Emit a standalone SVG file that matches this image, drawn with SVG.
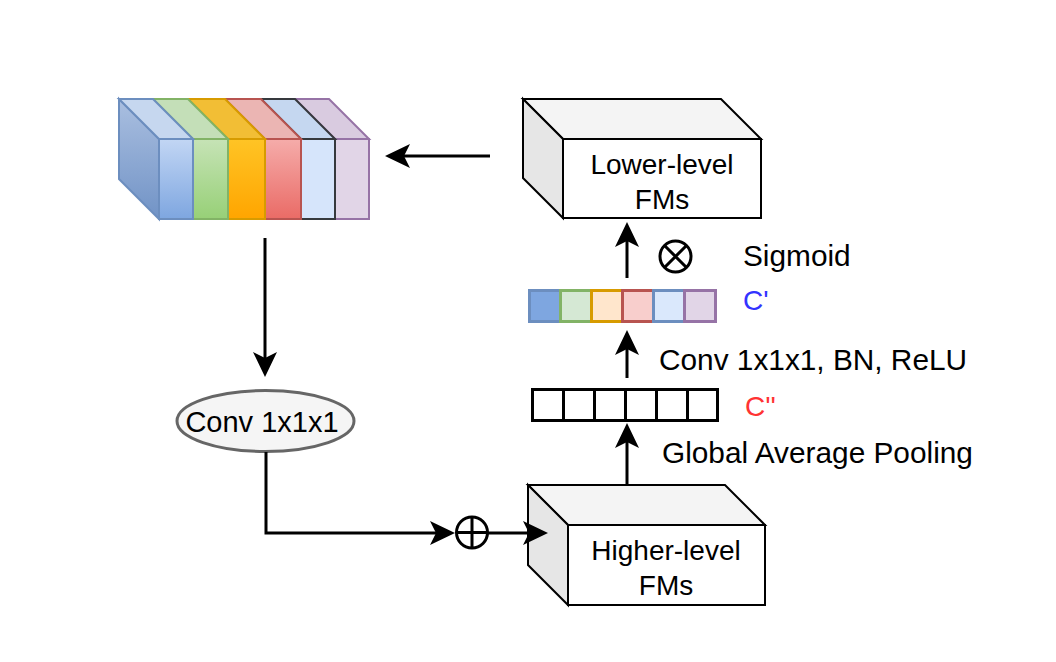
<svg xmlns="http://www.w3.org/2000/svg" width="1056" height="662" viewBox="0 0 1056 662">
<style>
text{font-family:"Liberation Sans",Arial,Helvetica,sans-serif;font-size:28px;fill:#000}
.lbl{font-size:29.8px}
.cube{stroke:#000;stroke-width:2;stroke-linejoin:miter}
.edge{fill:none;stroke:#000;stroke-width:3}
.sym{fill:#fff;stroke:#000;stroke-width:3}
.cell{stroke-width:3}
.blk{fill:#fff;stroke:#000;stroke-width:3}
</style>
<defs>
<marker id="ah" viewBox="0 0 25 24" markerWidth="25" markerHeight="24" markerUnits="userSpaceOnUse" refX="6" refY="12" orient="auto">
<path d="M0,0 L25,12 L0,24 L6,12 Z" fill="#000"/>
</marker>
<linearGradient id="gBlueF" x1="0" y1="0" x2="0" y2="1"><stop offset="0" stop-color="#c2d6f4"/><stop offset="1" stop-color="#7ea6e0"/></linearGradient>
<linearGradient id="gBlueL" x1="0" y1="0" x2="0" y2="1"><stop offset="0" stop-color="#aabfe0"/><stop offset="1" stop-color="#7193c6"/></linearGradient>
<linearGradient id="gGreenF" x1="0" y1="0" x2="0" y2="1"><stop offset="0" stop-color="#c6e3b6"/><stop offset="1" stop-color="#97d077"/></linearGradient>
<linearGradient id="gOrangeF" x1="0" y1="0" x2="0" y2="1"><stop offset="0" stop-color="#ffc425"/><stop offset="1" stop-color="#ffa500"/></linearGradient>
<linearGradient id="gRedF" x1="0" y1="0" x2="0" y2="1"><stop offset="0" stop-color="#f5acaa"/><stop offset="1" stop-color="#ea6b66"/></linearGradient>
</defs>

<g id="feature-stack">
  <g id="slab-purple" stroke="#9673a6" stroke-width="2">
    <polygon points="295,99 329,99 369,139 335,139" fill="#d9cbe0"/>
    <rect x="335" y="139" width="34" height="80" fill="#e1d5e7"/>
  </g>
  <g id="slab-lightblue" stroke="#36393d" stroke-width="2">
    <polygon points="261,99 295,99 335,139 301,139" fill="#c5d7f0"/>
    <rect x="301" y="139" width="34" height="80" fill="#d6e5fb"/>
  </g>
  <g id="slab-red" stroke="#b85450" stroke-width="2">
    <polygon points="225,99 261,99 301,139 265,139" fill="#ebb5b3"/>
    <rect x="265" y="139" width="36" height="80" fill="url(#gRedF)"/>
  </g>
  <g id="slab-orange" stroke="#d79b00" stroke-width="2">
    <polygon points="188,99 225,99 265,139 228,139" fill="#f2be35"/>
    <rect x="228" y="139" width="37" height="80" fill="url(#gOrangeF)"/>
  </g>
  <g id="slab-green" stroke="#82b366" stroke-width="2">
    <polygon points="153,99 188,99 228,139 193,139" fill="#c4dfb8"/>
    <rect x="193" y="139" width="35" height="80" fill="url(#gGreenF)"/>
  </g>
  <g id="slab-blue" stroke="#6c8ebf" stroke-width="2">
    <polygon points="119,99 159,139 159,219 119,179" fill="url(#gBlueL)"/>
    <polygon points="119,99 153,99 193,139 159,139" fill="#c6d7ef"/>
    <rect x="159" y="139" width="34" height="80" fill="url(#gBlueF)"/>
  </g>
</g>

<g id="lower-level-fms">
  <polygon class="cube" points="523,99 721,99 761,139 563,139" fill="#f4f4f4"/>
  <polygon class="cube" points="523,99 563,139 563,218 523,178" fill="#e6e6e6"/>
  <rect class="cube" x="563" y="139" width="198" height="79" fill="#fff"/>
  <text x="662" y="174" text-anchor="middle">Lower-level</text>
  <text x="662" y="209" text-anchor="middle">FMs</text>
</g>

<g id="higher-level-fms">
  <polygon class="cube" points="528,485 725,485 765,525 568,525" fill="#f4f4f4"/>
  <polygon class="cube" points="528,485 568,525 568,605 528,565" fill="#e6e6e6"/>
  <rect class="cube" x="568" y="525" width="197" height="80" fill="#fff"/>
  <text x="666" y="560" text-anchor="middle">Higher-level</text>
  <text x="666" y="595" text-anchor="middle">FMs</text>
</g>

<g id="conv-node">
  <ellipse cx="265.5" cy="421" rx="88.5" ry="30.5" fill="#f5f5f5" stroke="#666666" stroke-width="3"/>
  <text x="262" y="432" text-anchor="middle" style="font-size:29px">Conv 1x1x1</text>
</g>

<g id="c-prime">
  <rect class="cell" x="529.5" y="290.5" width="31" height="31" fill="#7ea6e0" stroke="#6c8ebf"/>
  <rect class="cell" x="560.5" y="290.5" width="31" height="31" fill="#d5e8d4" stroke="#82b366"/>
  <rect class="cell" x="591.5" y="290.5" width="31" height="31" fill="#ffe6cc" stroke="#d79b00"/>
  <rect class="cell" x="622.5" y="290.5" width="31" height="31" fill="#f8cecc" stroke="#b85450"/>
  <rect class="cell" x="653.5" y="290.5" width="31" height="31" fill="#dae8fc" stroke="#6c8ebf"/>
  <rect class="cell" x="684.5" y="290.5" width="31" height="31" fill="#e1d5e7" stroke="#9673a6"/>
  <text x="743" y="310" style="fill:#3333ff">C'</text>
</g>

<g id="c-double-prime">
  <rect class="blk" x="532.5" y="389.5" width="31" height="31"/>
  <rect class="blk" x="563.5" y="389.5" width="31" height="31"/>
  <rect class="blk" x="594.5" y="389.5" width="31" height="31"/>
  <rect class="blk" x="625.5" y="389.5" width="31" height="31"/>
  <rect class="blk" x="656.5" y="389.5" width="31" height="31"/>
  <rect class="blk" x="687.5" y="389.5" width="30" height="31"/>
  <text x="745" y="416" style="fill:#ff3333">C''</text>
</g>

<g id="multiply">
  <circle class="sym" cx="675.5" cy="256.5" r="15.5"/>
  <path d="M664.5,245.5 L686.5,267.5 M686.5,245.5 L664.5,267.5" stroke="#000" stroke-width="3"/>
</g>

<g id="add">
  <circle class="sym" cx="472" cy="532.5" r="15.5"/>
  <path d="M456.5,532.5 H487.5 M472,517 V548" stroke="#000" stroke-width="3"/>
</g>

<g id="labels">
  <text class="lbl" x="743" y="266">Sigmoid</text>
  <text class="lbl" x="659" y="370">Conv 1x1x1, BN, ReLU</text>
  <text class="lbl" x="662" y="463">Global Average Pooling</text>
</g>

<g id="connectors">
  <path class="edge" d="M490,156 H404" marker-end="url(#ah)"/>
  <path class="edge" d="M265,238 V358" marker-end="url(#ah)"/>
  <path class="edge" d="M266,452 V533 H436" marker-end="url(#ah)"/>
  <path class="edge" d="M488,533 H529" marker-end="url(#ah)"/>
  <path class="edge" d="M627,485 V442" marker-end="url(#ah)"/>
  <path class="edge" d="M627,378 V349" marker-end="url(#ah)"/>
  <path class="edge" d="M627,278 V241" marker-end="url(#ah)"/>
</g>
</svg>
